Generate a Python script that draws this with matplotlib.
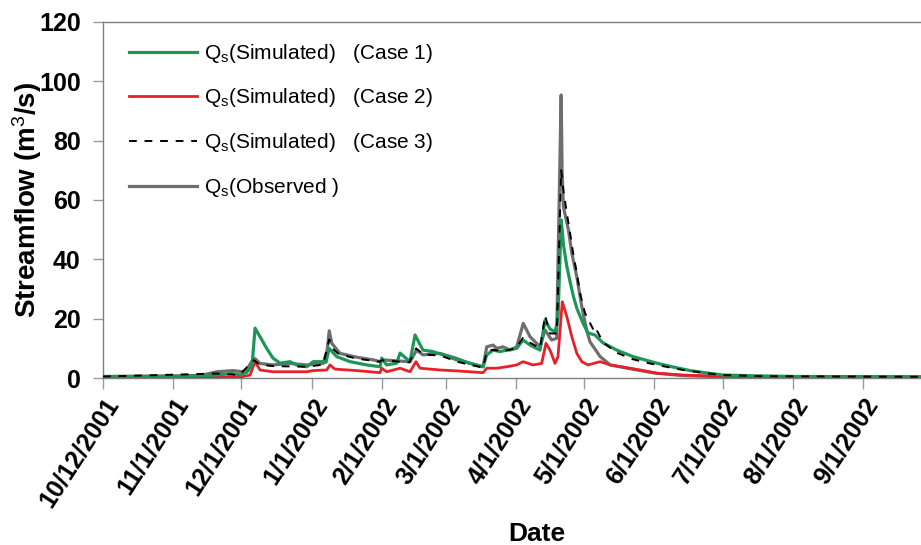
import matplotlib
matplotlib.use('Agg')
import matplotlib.pyplot as plt

plt.rcParams['font.family'] = ['Liberation Sans', 'DejaVu Sans']
plt.rcParams['mathtext.fontset'] = 'custom'
plt.rcParams['mathtext.rm'] = 'Liberation Sans'
plt.rcParams['mathtext.it'] = 'Liberation Sans:italic'
plt.rcParams['mathtext.bf'] = 'Liberation Sans:bold'

# x = days counted from 10/1/2001
tick_days = [0, 31, 61, 92, 123, 151, 182, 212, 243, 273, 304, 335]
tick_labels = ['10/12/2001', '11/1/2001', '12/1/2001', '1/1/2002', '2/1/2002', '3/1/2002',
               '4/1/2002', '5/1/2002', '6/1/2002', '7/1/2002', '8/1/2002', '9/1/2002']

# Observed streamflow (m3/s)
obs_day = [0, 42.8, 50.1, 57.3, 62.6, 66.2, 67.0, 69.2, 74.9, 82.4, 89.8, 97.0, 98.8, 99.7,
           100.8, 104.4, 111.8, 119.2, 122.1, 123.5, 130.9, 135.3, 138.2, 141.0, 148.5, 155.9,
           161.7, 167.5, 169.1, 171.9, 173.5, 176.3, 179.4, 182.3, 185.2, 188.2, 192.6, 194.8,
           197.7, 199.9, 201.9, 202.3, 202.9, 205.1, 206.6, 208.8, 211.0, 213.1, 214.6, 219.1,
           223.5, 229.2, 236.7, 244.0, 255.6, 273.2, 300, 364]
obs_q = [0.5, 0.8, 2.1, 2.5, 2.0, 6.3, 6.5, 4.9, 4.4, 4.9, 4.4, 4.9, 9.4, 15.9,
         11.7, 8.3, 7.0, 6.1, 5.5, 6.1, 5.7, 5.5, 9.4, 7.8, 8.3, 6.6,
         4.9, 3.8, 10.5, 11.1, 10.0, 10.5, 9.4, 10.5, 18.4, 13.9, 10.5, 16.2,
         12.8, 13.4, 95.4, 70.0, 57.7, 49.9, 42.0, 34.1, 24.0, 16.2, 12.2, 7.2,
         4.4, 3.6, 2.5, 1.6, 0.8, 0.45, 0.35, 0.3]

# Simulated, Case 1
case1_day = [0, 30.4, 49.4, 56.9, 60.4, 63.5, 65.7, 67.0, 69.2, 72.1, 74.9, 78.0, 82.4, 85.4,
             89.8, 92.6, 97.0, 98.3, 99.6, 103.0, 108.9, 116.2, 122.1, 122.8, 125.0, 129.4,
             130.9, 135.3, 137.5, 141.0, 145.4, 149.8, 155.9, 161.7, 167.5, 169.1, 171.9, 175.0,
             177.9, 182.3, 185.1, 188.2, 192.6, 194.8, 197.0, 199.2, 200.5, 201.9, 202.9, 204.3,
             205.8, 207.3, 208.8, 211.5, 213.7, 216.8, 220.4, 226.4, 233.6, 244.0, 251.2, 258.7,
             266.1, 273.2, 289.6, 307.2, 364]
case1_q = [0.5, 0.5, 1.0, 1.5, 1.0, 2.0, 4.4, 16.8, 13.9, 10.0, 6.7, 5.0, 5.5, 4.4,
           3.8, 5.5, 5.5, 5.3, 10.0, 7.2, 5.5, 4.4, 3.8, 6.7, 4.4, 5.0,
           8.4, 5.5, 14.5, 9.4, 8.9, 7.8, 6.1, 5.0, 3.8, 7.8, 9.4, 8.9,
           9.4, 10.0, 12.8, 11.1, 9.4, 19.5, 16.5, 15.5, 20.0, 53.3, 45.0, 38.0,
           32.5, 27.5, 23.5, 18.5, 15.2, 14.5, 11.8, 9.4, 7.2, 5.0, 3.7, 2.5,
           1.7, 1.0, 0.7, 0.5, 0.4]

# Simulated, Case 2
case2_day = [0, 60.4, 64.8, 67.0, 69.2, 74.9, 89.8, 92.6, 98.6, 100.0, 102.2, 111.8, 122.1,
             122.8, 125.0, 130.9, 135.3, 137.9, 139.7, 148.5, 155.9, 167.5, 169.1, 173.5, 177.9,
             182.3, 185.1, 189.5, 193.3, 195.2, 197.0, 199.2, 200.5, 202.4, 204.4, 206.6, 208.8,
             211.0, 213.7, 219.1, 223.5, 236.7, 244.0, 255.6, 266.1, 288.1, 364]
case2_q = [0.3, 0.3, 1.0, 5.5, 2.7, 2.1, 2.1, 2.5, 2.7, 4.4, 3.0, 2.5, 1.8,
           3.3, 2.1, 3.3, 2.1, 5.5, 3.3, 2.7, 2.4, 1.8, 3.3, 3.3, 3.8,
           4.4, 5.5, 4.4, 4.9, 11.7, 9.4, 4.9, 7.2, 25.7, 20.7, 13.9, 8.3,
           5.5, 4.4, 5.5, 4.4, 2.7, 1.6, 1.0, 0.7, 0.45, 0.3]

# Simulated, Case 3
case3_day = [0, 50, 60, 66.5, 69, 75, 90, 97, 99.7, 101, 104, 112, 122, 123, 131, 135, 138,
             141, 149, 156, 162, 167.5, 169.1, 172, 176, 182, 185, 188, 192.6, 194.8, 197, 200,
             201.9, 202.9, 204.4, 205.8, 207.2, 208.8, 210.2, 212.4, 216.8, 217.5, 220.4, 226.4,
             233.6, 241, 248, 255.6, 266, 273, 290, 364]
case3_q = [0.5, 1.5, 1.0, 6.0, 4.5, 4.0, 3.8, 4.5, 13.0, 10.0, 8.0, 6.5, 5.5, 6.0, 5.5, 5.3, 10.0,
           8.0, 7.5, 5.5, 4.4, 3.5, 9.0, 9.5, 9.0, 10.0, 13.5, 12.0, 10.0, 21.0, 15.0, 15.0,
           70.0, 63.0, 55.6, 49.0, 42.0, 35.4, 28.6, 21.9, 15.2, 16.2, 12.0, 8.5,
           6.3, 4.9, 3.8, 2.7, 1.6, 1.0, 0.6, 0.4]

fig = plt.figure(figsize=(9.21, 5.45), dpi=100)
# the original plot runs past the right edge of the picture
ax = fig.add_axes([103 / 921, 167 / 545, 868 / 921, 356 / 545])

ax.plot(obs_day, obs_q, color='#6e6e70', lw=2.3, zorder=2,
        label=r'$\mathregular{Q_s}$(Observed )')
ax.plot(case2_day, case2_q, color='#e8202a', lw=2.0, zorder=3,
        label=r'$\mathregular{Q_s}$(Simulated)   (Case 2)')
ax.plot(case1_day, case1_q, color='#1e9658', lw=2.3, zorder=4,
        label=r'$\mathregular{Q_s}$(Simulated)   (Case 1)')
ax.plot(case3_day, case3_q, color='black', lw=1.4, ls=(0, (4, 4)), zorder=5,
        label=r'$\mathregular{Q_s}$(Simulated)   (Case 3)')

ax.set_xlim(0, 382.5)
ax.set_ylim(0, 120)
ax.set_yticks(range(0, 121, 20))
ax.set_xticks(tick_days)
ax.set_xticklabels(tick_labels)

for s in ax.spines.values():
    s.set_color('#7f7f7f')
    s.set_linewidth(1.0)
ax.tick_params(axis='y', direction='out', length=7, width=1, color='#9a9a9a',
               labelsize=18, pad=9)
ax.tick_params(axis='x', direction='out', length=8, width=1, color='#9a9a9a',
               labelsize=18, pad=3)
for lab in ax.get_yticklabels():
    lab.set_fontweight('bold')
for lab in ax.get_xticklabels():
    lab.set_fontweight('bold')
    lab.set_rotation(57)
    lab.set_ha('right')
    lab.set_va('top')
    lab.set_rotation_mode('anchor')

ax.set_ylabel('Streamflow (m$^3$/s)', fontsize=20, fontweight='bold')
ax.yaxis.set_label_coords(-0.068, 0.5)
ax.set_xlabel('Date', fontsize=19, fontweight='bold')
ax.xaxis.set_label_coords(0.5, -0.405)

h, l = ax.get_legend_handles_labels()
order = [2, 1, 3, 0]
ax.legend([h[i] for i in order], [l[i] for i in order], loc='upper left',
          bbox_to_anchor=(0.008, 0.997), frameon=False, fontsize=15,
          handlelength=3.3, handletextpad=0.3, labelspacing=1.04)

fig.savefig('out.png', dpi=100)
